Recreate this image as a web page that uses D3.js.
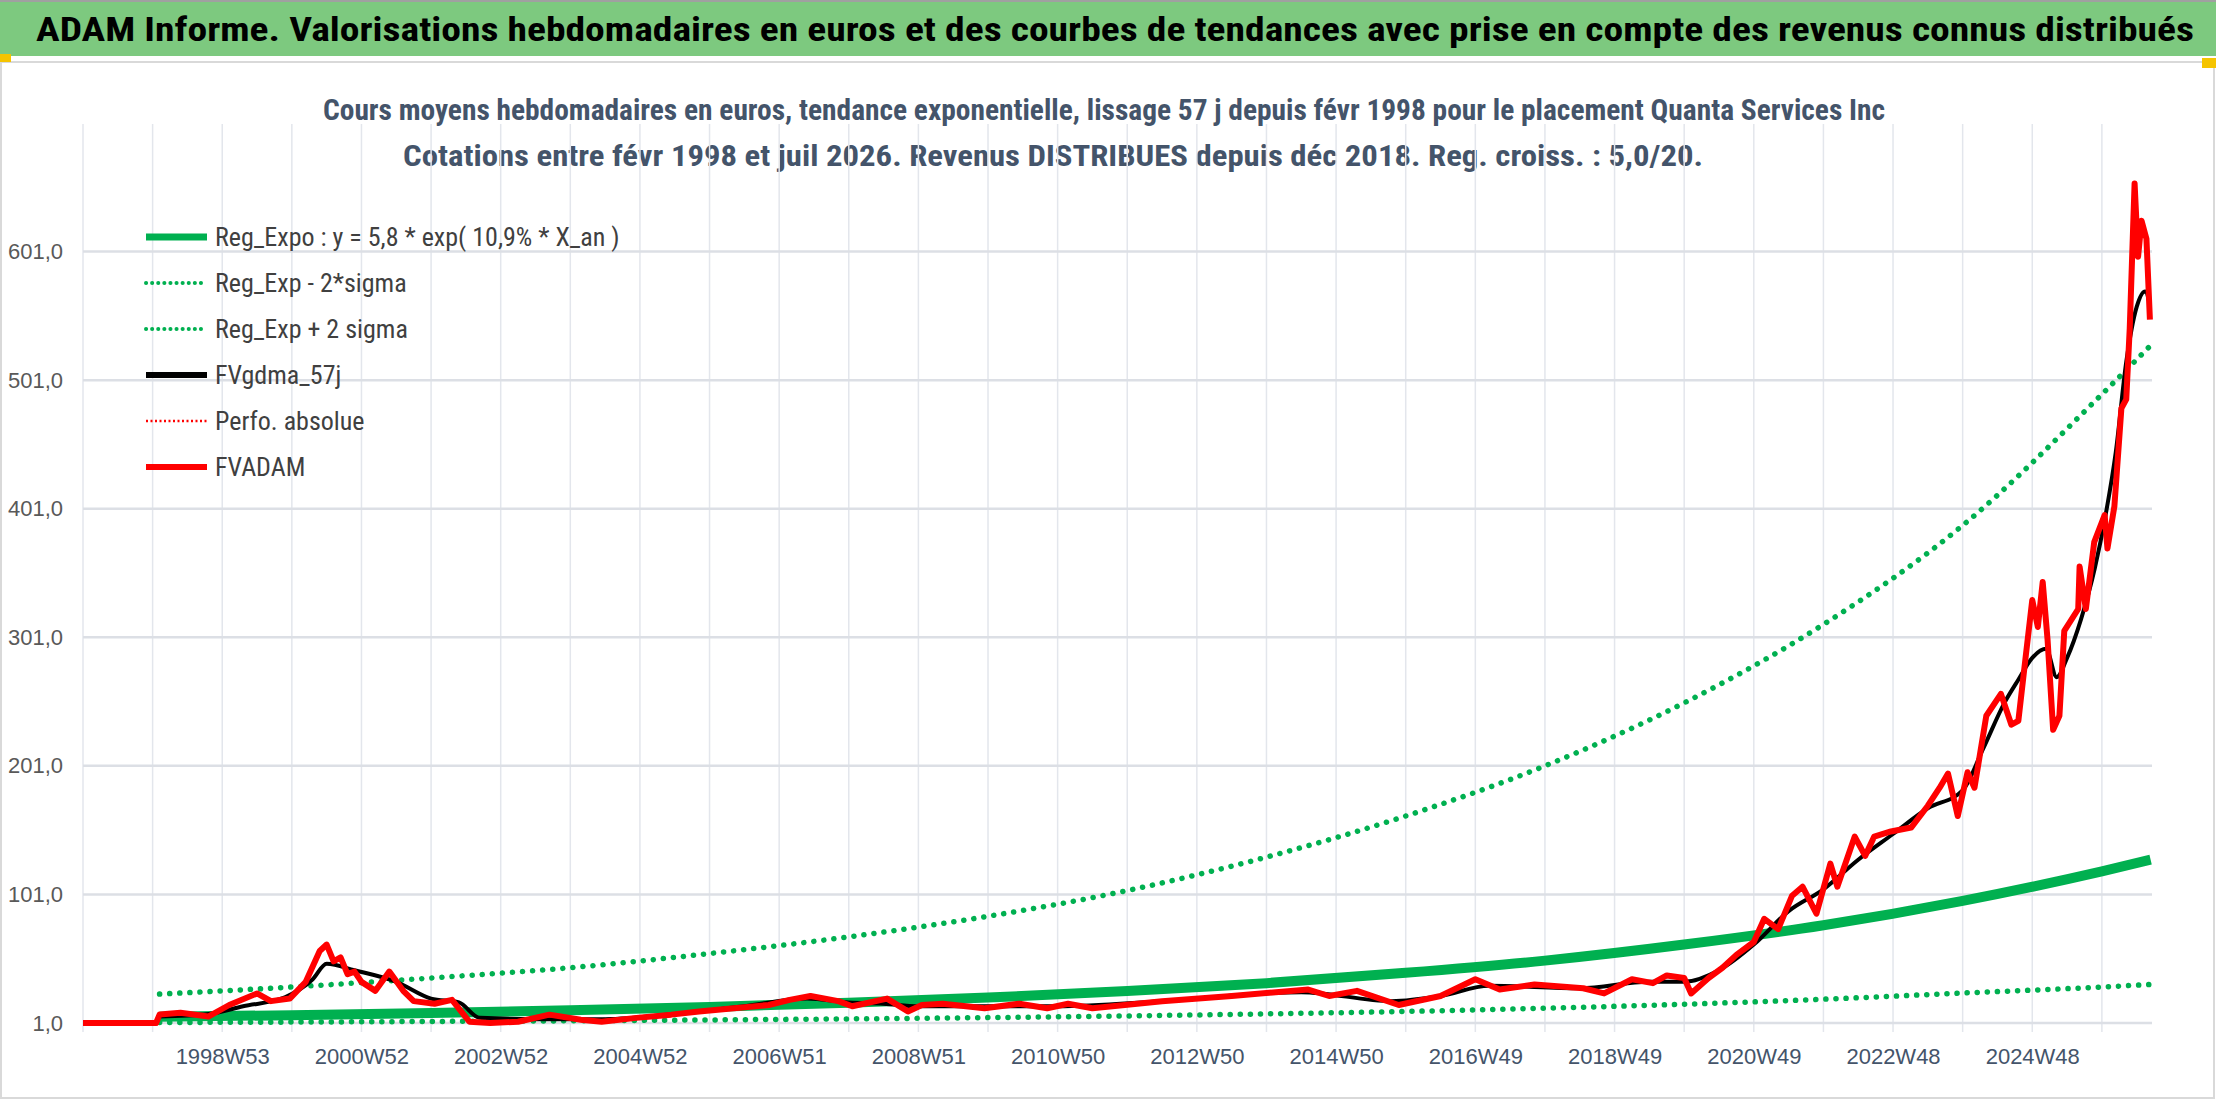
<!DOCTYPE html>
<html><head><meta charset="utf-8">
<script src="https://cdn.jsdelivr.net/npm/d3@7"></script>
<style>body{margin:0;background:#fff;overflow:hidden}text{font-family:"Liberation Sans Narrow","Roboto Condensed","Liberation Sans",sans-serif}</style>
</head><body>
<script>
const width = 2216, height = 1106;

// x values are fractional years
const regYears = [1998.1, 2000, 2002, 2004, 2006, 2008, 2010, 2012, 2014, 2016, 2018, 2020, 2022, 2024, 2026, 2026.7];
const regExpo  = [5.8, 7.1, 8.8, 10.9, 13.5, 16.8, 20.8, 25.8, 32, 40, 49.5, 62, 77, 96, 119, 128];
const regUpper = [23.5, 29, 36, 44, 55, 68, 84, 104, 130, 162, 201, 250, 311, 388, 490, 528];
const regLower = [1.4, 1.7, 2.2, 2.7, 3.4, 4.2, 5.2, 6.5, 8.1, 10, 12.5, 15.6, 19.5, 24.3, 29, 31];

const advYears = [1997, 1998.05, 1998.1, 1998.4, 1998.8, 1999.1, 1999.5, 1999.7, 1999.97, 2000.2, 2000.4, 2000.5, 2000.6, 2000.7, 2000.8, 2000.9, 2001.0, 2001.2, 2001.4, 2001.6, 2001.75, 2002.05, 2002.3, 2002.55, 2002.85, 2003.25, 2003.7, 2004.15, 2004.45, 2004.95, 2005.45, 2005.85, 2006.35, 2006.85, 2007.15, 2007.45, 2007.85, 2008.05, 2008.55, 2008.85, 2009.05, 2009.35, 2009.95, 2010.45, 2010.85, 2011.15, 2011.5, 2012.5, 2013.5, 2014.6, 2014.9, 2015.3, 2015.9, 2016.5, 2017.0, 2017.35, 2017.85, 2018.55, 2018.85, 2019.25, 2019.55, 2019.75, 2020.0, 2020.1, 2020.35, 2020.55, 2020.75, 2021.0, 2021.15, 2021.35, 2021.55, 2021.7, 2021.9, 2022.1, 2022.2, 2022.45, 2022.6, 2022.73, 2022.97, 2023.26, 2023.5, 2023.67, 2023.79, 2023.93, 2024.07, 2024.17, 2024.34, 2024.55, 2024.7, 2024.8, 2024.91, 2025.0, 2025.08, 2025.15, 2025.22, 2025.3, 2025.39, 2025.46, 2025.66, 2025.68, 2025.77, 2025.89, 2026.04, 2026.08, 2026.18, 2026.28, 2026.35, 2026.4, 2026.47, 2026.52, 2026.57, 2026.64, 2026.69];
const fvadam   = [1, 1, 7.6, 9, 6, 15, 24, 18, 20, 33, 57, 62, 49, 52, 39, 41, 33, 26, 41, 26, 18, 16, 19, 2, 1, 2, 7.5, 3.5, 2, 5, 7.5, 10, 12.5, 15, 19, 22, 18, 14, 20, 10, 15, 16, 12.5, 16, 12.5, 16, 12.5, 18, 22, 27, 22, 26, 15, 22, 35, 27, 31, 28, 24, 35, 32, 38, 36, 24, 36, 44, 54, 64, 82, 74, 100, 107, 86, 125, 107, 146, 131, 146, 150, 153, 170, 184, 195, 162, 196, 184, 240, 257, 233, 236, 288, 330, 309, 344, 299, 229, 240, 306, 323, 356, 323, 375, 396, 370, 403, 479, 486, 541, 654, 597, 625, 611, 548];

const smYears = [1998.1, 1998.8, 1999.3, 1999.9, 2000.3, 2000.5, 2000.9, 2001.5, 2002.0, 2002.4, 2002.7, 2003.5, 2004.5, 2005.5, 2006.5, 2007.4, 2008.0, 2008.5, 2009.0, 2010.0, 2011.0, 2012.5, 2014.5, 2015.8, 2016.5, 2017.2, 2018.5, 2019.5, 2020.0, 2020.5, 2021.0, 2021.5, 2022.0, 2022.5, 2023.0, 2023.5, 2024.0, 2024.3, 2024.6, 2024.8, 2025.0, 2025.2, 2025.35, 2025.5, 2025.7, 2025.9, 2026.05, 2026.2, 2026.35, 2026.5, 2026.62, 2026.69];
const fvgdma  = [6, 8, 14, 21, 35, 47, 42, 33, 20, 17, 5, 4, 4, 8, 14, 20, 17, 16, 14, 14, 14, 18, 25, 18, 22, 30, 28, 33, 33, 42, 62, 88, 105, 128, 148, 168, 182, 215, 250, 268, 285, 292, 270, 285, 315, 355, 395, 445, 515, 558, 570, 560];

const yTicks = [1, 101, 201, 301, 401, 501, 601];
const xTickLabels = ["1998W53","2000W52","2002W52","2004W52","2006W51","2008W51","2010W50","2012W50","2014W50","2016W49","2018W49","2020W49","2022W48","2024W48"];
const xTickYears = [1999, 2001, 2003, 2005, 2007, 2009, 2011, 2013, 2015, 2017, 2019, 2021, 2023, 2025];
const gridYears = d3.range(1997, 2027);

const legendNames = ["Reg_Expo : y = 5,8 * exp( 10,9% *  X_an )", "Reg_Exp - 2*sigma", "Reg_Exp + 2 sigma", "FVgdma_57j", "Perfo. absolue", "FVADAM"];

const svg = d3.select('body').append('svg').attr('width', width).attr('height', height);

// frame + header
svg.append('rect').attr('width', width).attr('height', height).attr('fill', '#fff');
svg.append('rect').attr('x', 1).attr('y', 62).attr('width', width - 3).attr('height', 1036)
   .attr('fill', 'none').attr('stroke', '#d9d9d9').attr('stroke-width', 2);
svg.append('rect').attr('x', 0).attr('y', 0).attr('width', width).attr('height', 56).attr('fill', '#7DC97F');
svg.append('rect').attr('x', 0).attr('y', 0).attr('width', width).attr('height', 2).attr('fill', '#a0a0a0');
svg.append('rect').attr('x', 0).attr('y', 54).attr('width', 11).attr('height', 8).attr('fill', '#F5C400');
svg.append('rect').attr('x', 2202).attr('y', 58).attr('width', 14).attr('height', 10).attr('fill', '#F5C400');
svg.append('text').attr('x', 36).attr('y', 41).attr('font-size', 33).attr('font-weight', 'bold').attr('fill', '#000')
   .attr('textLength', 2158).attr('lengthAdjust', 'spacingAndGlyphs')
   .text('ADAM Informe. Valorisations hebdomadaires en euros et des courbes de tendances avec prise en compte des revenus connus distribués');

svg.append('text').attr('x', 1104).attr('y', 120).attr('text-anchor', 'middle').attr('font-size', 30).attr('font-weight', 'bold').attr('fill', '#44546A')
   .attr('textLength', 1562).attr('lengthAdjust', 'spacingAndGlyphs')
   .text('Cours moyens hebdomadaires en euros, tendance exponentielle, lissage 57 j depuis févr 1998 pour le placement Quanta Services Inc');
svg.append('text').attr('x', 1053).attr('y', 166).attr('text-anchor', 'middle').attr('font-size', 30).attr('font-weight', 'bold').attr('fill', '#44546A')
   .attr('textLength', 1300).attr('lengthAdjust', 'spacingAndGlyphs')
   .text('Cotations entre févr 1998 et juil 2026. Revenus DISTRIBUES depuis déc 2018. Reg. croiss. : 5,0/20.');

const x = d3.scaleLinear().domain([1997, 2026.72]).range([83, 2152]);
const y = d3.scaleLinear().domain([1, 701]).range([1023, 123]);

// grid
const g = svg.append('g');
g.selectAll('.vg').data(gridYears).join('line')
  .attr('x1', d => x(d)).attr('x2', d => x(d)).attr('y1', 124).attr('y2', 1032)
  .attr('stroke', '#e3e6ec').attr('stroke-width', 1.5);
g.selectAll('.hg').data(yTicks).join('line')
  .attr('x1', 83).attr('x2', 2152).attr('y1', d => y(d)).attr('y2', d => y(d))
  .attr('stroke', '#dcdfe5').attr('stroke-width', 2.5);

// axes labels
const yAxis = svg.append('g').attr('transform', 'translate(83,0)')
  .call(d3.axisLeft(y).tickValues(yTicks).tickSize(0).tickPadding(20).tickFormat(d => d3.format('.1f')(d).replace('.', ',')));
yAxis.select('.domain').remove();
yAxis.selectAll('text').attr('font-size', 22).attr('fill', '#595959')
  .style('font-family', '"Liberation Sans Narrow",sans-serif');

const xAxis = svg.append('g').attr('transform', 'translate(0,1040)')
  .call(d3.axisBottom(x).tickValues(xTickYears).tickSize(0).tickPadding(8).tickFormat((d, i) => xTickLabels[i]));
xAxis.select('.domain').remove();
xAxis.selectAll('text').attr('font-size', 22).attr('fill', '#44546A')
  .style('font-family', '"Liberation Sans Narrow",sans-serif');

// lines
const line = (xs) => d3.line().x((d, i) => x(xs[i])).y(d => y(d)).curve(d3.curveMonotoneX);
const green = '#00B050';
svg.append('path').attr('d', line(regYears)(regUpper)).attr('fill', 'none').attr('stroke', green)
  .attr('stroke-width', 5.5).attr('stroke-dasharray', '0.1 10').attr('stroke-linecap', 'round');
svg.append('path').attr('d', line(regYears)(regLower)).attr('fill', 'none').attr('stroke', green)
  .attr('stroke-width', 5.5).attr('stroke-dasharray', '0.1 10').attr('stroke-linecap', 'round');
svg.append('path').attr('d', line(regYears)(regExpo)).attr('fill', 'none').attr('stroke', green).attr('stroke-width', 10);
svg.append('path').attr('d', line(smYears)(fvgdma)).attr('fill', 'none').attr('stroke', '#000').attr('stroke-width', 4);
svg.append('path').attr('d', d3.line().x((d, i) => x(advYears[i])).y(d => y(d))(fvadam))
  .attr('fill', 'none').attr('stroke', '#FF0000').attr('stroke-width', 6).attr('stroke-linejoin', 'round');

// legend
const lg = svg.append('g');
const rows = lg.selectAll('g').data(legendNames).join('g').attr('transform', (d, i) => `translate(0,${237 + i * 46})`);
rows.append('line').attr('x1', 146).attr('x2', 207).attr('y1', 0).attr('y2', 0)
  .attr('stroke', (d, i) => i < 3 ? green : (i === 3 ? '#000' : '#FF0000'))
  .attr('stroke-width', (d, i) => i === 0 ? 7 : (i === 1 || i === 2 ? 4 : (i === 4 ? 2.5 : 6)))
  .attr('stroke-dasharray', (d, i) => (i === 1 || i === 2) ? '0.1 6' : (i === 4 ? '2 2.5' : null))
  .attr('stroke-linecap', (d, i) => (i === 1 || i === 2) ? 'round' : 'butt');
rows.append('text').attr('x', 215).attr('y', 9).attr('font-size', 26).attr('fill', '#404040').text(d => d);
</script>
</body></html>
